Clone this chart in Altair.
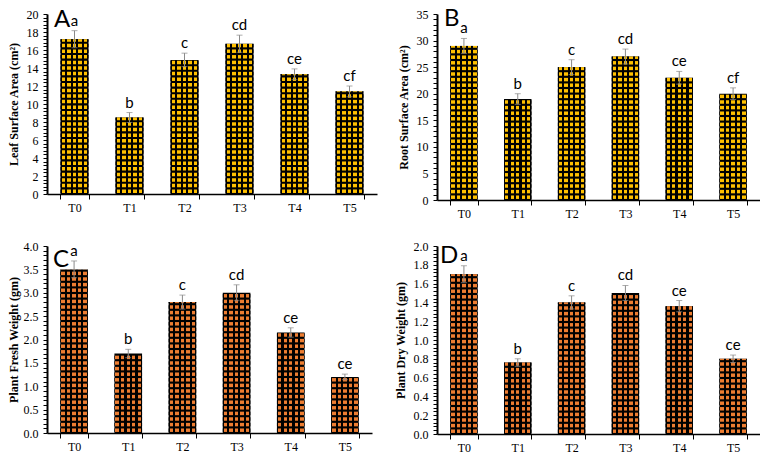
import altair as alt
import pandas as pd

cats = ["T0", "T1", "T2", "T3", "T4", "T5"]

leaf_vals = [17.2, 8.5, 14.9, 16.7, 13.3, 11.4]
leaf_err = [0.95, 0.55, 0.75, 0.95, 0.6, 0.6]
leaf_letters = ["a", "b", "c", "cd", "ce", "cf"]

root_vals = [29.0, 19.0, 25.0, 27.0, 23.0, 20.0]
root_err = [1.4, 1.0, 1.4, 1.4, 1.2, 1.1]
root_letters = ["a", "b", "c", "cd", "ce", "cf"]

fresh_vals = [3.5, 1.7, 2.8, 3.0, 2.15, 1.2]
fresh_err = [0.18, 0.09, 0.15, 0.17, 0.1, 0.06]
fresh_letters = ["a", "b", "c", "cd", "ce", "ce"]

dry_vals = [1.7, 0.76, 1.4, 1.5, 1.36, 0.8]
dry_err = [0.09, 0.04, 0.07, 0.08, 0.06, 0.04]
dry_letters = ["a", "b", "c", "cd", "ce", "ce"]

YELLOW = "#FFC000"
ORANGE = "#ED7D31"
ERR = "#8a8a8a"
SERIF = "Liberation Serif"
SANS = "Lato"

P = 5.6   # pattern period (px)
F = 0.62  # coloured fraction of each period


def stripes(color, n=5):
    stops = []
    w = 1.0 / n
    for j in range(n):
        a = j * w
        stops += [
            alt.GradientStop(color="#000000", offset=a),
            alt.GradientStop(color="#000000", offset=a + w * (1 - F) / 2),
            alt.GradientStop(color=color, offset=a + w * (1 - F) / 2),
            alt.GradientStop(color=color, offset=a + w * (1 + F) / 2),
            alt.GradientStop(color="#000000", offset=a + w * (1 + F) / 2),
            alt.GradientStop(color="#000000", offset=min(1.0, a + w)),
        ]
    return alt.LinearGradient(gradient="linear", stops=stops, x1=0, x2=1, y1=0, y2=0)


def pattern_rows(vals, step):
    cc, y0s, y1s = [], [], []
    for c, v in zip(cats, vals):
        k = 0
        while k * step + (1 - F) / 2 * step < v:
            y0 = k * step + (1 - F) / 2 * step
            y1 = min(k * step + (1 + F) / 2 * step, v)
            cc.append(c)
            y0s.append(y0)
            y1s.append(y1)
            k += 1
    return pd.DataFrame({"cat": cc, "y0": y0s, "y1": y1s})


def panel(label, title, vals, errs, letters, ymax, major, minor, fmt,
          width, height, color, lx, ly, tpad=6):
    df = pd.DataFrame({
        "cat": cats,
        "v": vals,
        "lo": [v - e for v, e in zip(vals, errs)],
        "hi": [v + e for v, e in zip(vals, errs)],
        "txt": letters,
    })
    step = P * ymax / height
    rows = pattern_rows(vals, step)

    xs = alt.Scale(domain=cats, paddingInner=0.49, paddingOuter=0.245)
    xaxis = alt.Axis(title=None, labelAngle=0, tickBand="extent",
                     tickSize=5, labelPadding=3, domainWidth=1.5)
    ys = alt.Scale(domain=[0, ymax], nice=False, zero=True)
    nt = int(round(ymax / minor))
    tick_vals = [round(i * minor, 4) for i in range(nt + 1)]
    expr = (f"abs(datum.value/{major} - round(datum.value/{major})) < 0.001"
            " ? datum.label : ''")
    yaxis = alt.Axis(values=tick_vals, tickCount=len(tick_vals) + 5,
                     labelExpr=expr, format=fmt, title=title,
                     labelOverlap=False, tickSize=4, labelPadding=5,
                     titlePadding=tpad, domainWidth=2, grid=False)

    def X():
        return alt.X("cat:N", scale=xs, sort=cats, axis=xaxis, title=None)

    def Y(f):
        return alt.Y(f, scale=ys, axis=yaxis, title=title)

    base = alt.Chart(df).mark_bar(color="#000000").encode(x=X(), y=Y("v:Q"))
    pat = alt.Chart(rows).mark_bar(fill=stripes(color), strokeWidth=0).encode(
        x=X(), y=Y("y0:Q"), y2="y1:Q")
    rule = alt.Chart(df).mark_rule(color=ERR, strokeWidth=1).encode(
        x=X(), y=Y("lo:Q"), y2="hi:Q")
    cap_lo = alt.Chart(df).mark_tick(color=ERR, size=6, thickness=1).encode(
        x=X(), y=Y("lo:Q"))
    cap_hi = alt.Chart(df).mark_tick(color=ERR, size=6, thickness=1).encode(
        x=X(), y=Y("hi:Q"))
    txt = alt.Chart(df).mark_text(font=SANS, fontSize=15, dy=-5,
                                  baseline="alphabetic", color="#000000").encode(
        x=X(), y=Y("hi:Q"), text="txt:N")
    lab = alt.Chart(pd.DataFrame({"t": [label]})).mark_text(
        font=SANS, fontSize=24, align="left", baseline="alphabetic",
        color="#000000").encode(x=alt.value(lx), y=alt.value(ly), text="t:N")

    return alt.layer(base, pat, rule, cap_lo, cap_hi, txt, lab).properties(
        width=width, height=height)


A = panel("A", "Leaf Surface Area (cm²)", leaf_vals, leaf_err, leaf_letters,
          20, 2, 0.4, ".0f", 330, 180, YELLOW, 7, 13)
B = panel("B", "Root Surface Area (cm²)", root_vals, root_err, root_letters,
          35, 5, 1, ".0f", 323, 186, YELLOW, 7, 12)
C = panel("C", "Plant Fresh Weight (gm)", fresh_vals, fresh_err, fresh_letters,
          4.0, 0.5, 0.1, ".1f", 325, 187, ORANGE, 6, 21, tpad=3)
D = panel("D", "Plant Dry Weight (gm)", dry_vals, dry_err, dry_letters,
          2.0, 0.2, 0.04, ".1f", 323, 188, ORANGE, 3, 17)

chart = alt.concat(
    A, B, C, D, columns=2, bounds="flush",
    spacing={"row": 46, "column": 60},
).properties(
    autosize=alt.AutoSizeParams(type="none"),
    padding={"left": 39, "top": 6, "right": 713, "bottom": 440},
    background="white",
).configure_view(stroke=None).configure_axis(
    domainColor="#000000", tickColor="#000000", tickWidth=1,
    labelColor="#000000", titleColor="#000000",
    labelFont=SERIF, labelFontSize=12,
    titleFont=SERIF, titleFontSize=12, titleFontWeight="bold",
)

chart.save("out.html", embed_options={"renderer": "svg", "actions": False})
